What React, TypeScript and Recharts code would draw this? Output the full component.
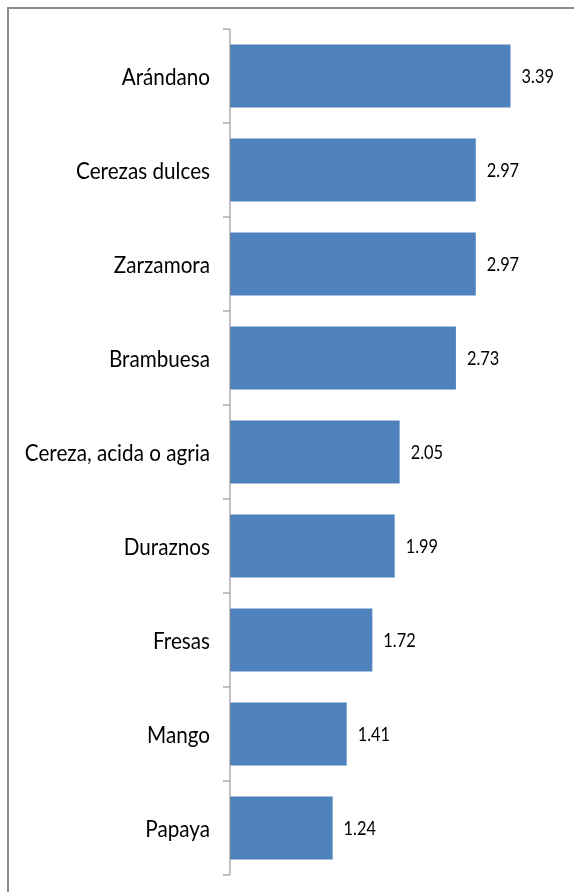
import React from 'react';
import { BarChart, Bar, XAxis, YAxis, LabelList } from 'recharts';

const fruits = [
    'Arándano',
    'Cerezas dulces',
    'Zarzamora',
    'Brambuesa',
    'Cereza, acida o agria',
    'Duraznos',
    'Fresas',
    'Mango',
    'Papaya',
];

const values = [3.39, 2.97, 2.97, 2.73, 2.05, 1.99, 1.72, 1.41, 1.24];

const data = fruits.map((name, i) => ({ name, value: values[i] }));

const CHART_W = 560;
const CHART_H = 876;
const MARGIN = { top: 21, right: 7, bottom: 9, left: 0 };
const BAND = (CHART_H - MARGIN.top - MARGIN.bottom) / fruits.length;
const LABEL_FONT = 'Lato, "DejaVu Sans Condensed", sans-serif';
// the original picture is squeezed sideways, so the text is narrow and tall
const SQUEEZE = 0.88;

const FruitTick = (props: any) => {
    const { x, y, payload, index } = props;
    const axisX = x + 20;
    return (
        <g>
            <text
                transform={`translate(${x},${y + 8.5}) scale(${SQUEEZE},1)`}
                textAnchor="end"
                fontSize={23.5}
                fill="#000"
                fontFamily={LABEL_FONT}
            >
                {payload.value}
            </text>
            <line x1={axisX - 7} x2={axisX} y1={y - BAND / 2} y2={y - BAND / 2} stroke="#868686" />
            {index === fruits.length - 1 && (
                <line x1={axisX - 7} x2={axisX} y1={y + BAND / 2} y2={y + BAND / 2} stroke="#868686" />
            )}
        </g>
    );
};

const ValueLabel = (props: any) => {
    const { x, y, width, height, value } = props;
    const lx = x + width + 11;
    const ly = y + height / 2 + 7;
    return (
        <text
            transform={`translate(${lx},${ly}) scale(0.84,1)`}
            textAnchor="start"
            fontSize={19.5}
            fill="#000"
            fontFamily={LABEL_FONT}
        >
            {Number(value).toFixed(2)}
        </text>
    );
};

const App = () => {
    return (
        <div style={{ position: 'relative', width: CHART_W, height: CHART_H }}>
            {/* chart frame, cut off at the right and bottom */}
            <div style={{ position: 'fixed', left: 7, top: 7, width: 2, height: 885, background: '#8c8c8c' }} />
            <div style={{ position: 'fixed', left: 7, top: 7, width: 567, height: 2, background: '#8c8c8c' }} />
            <BarChart
                width={CHART_W}
                height={CHART_H}
                data={data}
                layout="vertical"
                barCategoryGap="16.5%"
                margin={MARGIN}
            >
                <XAxis type="number" domain={[0, 4]} hide />
                <YAxis
                    type="category"
                    dataKey="name"
                    width={222}
                    axisLine={{ stroke: '#868686' }}
                    tickLine={false}
                    tickSize={0}
                    tickMargin={20}
                    tick={<FruitTick />}
                    interval={0}
                />
                <Bar dataKey="value" fill="#4F81BD" isAnimationActive={false}>
                    <LabelList dataKey="value" content={<ValueLabel />} />
                </Bar>
            </BarChart>
        </div>
    );
};

export default App;
